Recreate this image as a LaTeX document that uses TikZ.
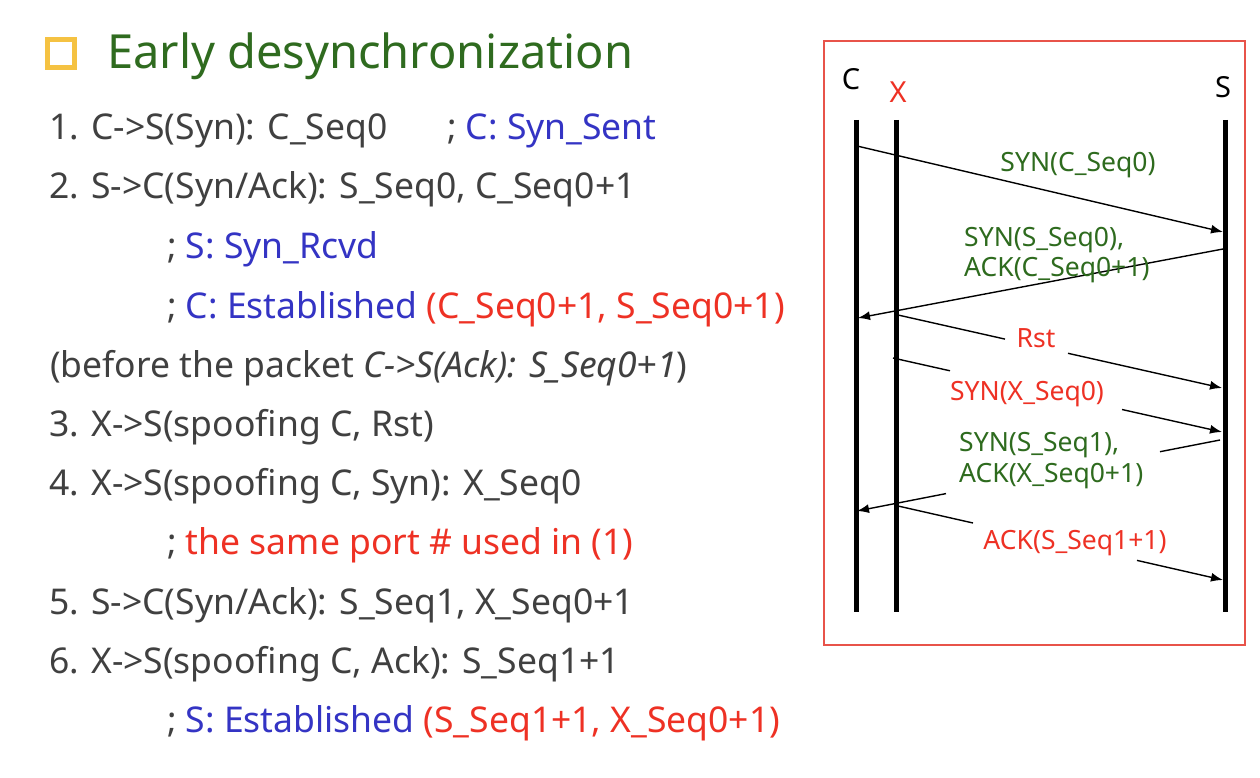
\documentclass[tikz,border=0pt]{standalone}
\usepackage{fontspec}
\setmainfont{Noto Sans}
\usetikzlibrary{arrows.meta}
\definecolor{txtgray}{HTML}{404040}
\definecolor{txtblue}{HTML}{3434C4}
\definecolor{txtred}{HTML}{EE3124}
\definecolor{ttlgreen}{HTML}{2F6B1F}
\definecolor{lblgreen}{HTML}{2E6B1E}
\definecolor{bulletyel}{HTML}{F5C242}
\definecolor{boxred}{HTML}{E8534A}
\tikzset{
  bodytext/.style={anchor=base west, inner sep=0pt, text=txtgray, font=\fontsize{35.5}{42}\selectfont},
  titletext/.style={anchor=base west, inner sep=0pt, text=ttlgreen, font=\fontsize{47}{56}\selectfont},
  lifeline/.style={line width=5pt},
  msg/.style={line width=1.4pt, -{Latex[length=12pt,width=9pt]}},
  seg/.style={line width=1.4pt},
  lbl/.style={inner sep=0pt, font=\fontsize{26.5}{30.5}\selectfont},
  actor/.style={anchor=base, inner sep=0pt, font=\fontsize{29}{32}\selectfont}
}
\begin{document}
\begin{tikzpicture}[x=1pt,y=-1pt]
\useasboundingbox (0,0) rectangle (1260,778);
\fill[white] (0,0) rectangle (1260,778);

% title
\draw[bulletyel, line width=5.5pt] (47.5,39.5) rectangle (74.5,67.5);
\node[titletext] (title) at (107,69) {Early desynchronization};

% body lines
\node[bodytext] (l1) at (49,140) {1. C->S(Syn): C\_Seq0};
\node[bodytext] (l1b) at (447,140) {; \textcolor{txtblue}{C: Syn\_Sent}};
\node[bodytext] (l2) at (49,199) {2. S->C(Syn/Ack): S\_Seq0, C\_Seq0+1};
\node[bodytext] (l3) at (167,258) {; \textcolor{txtblue}{S: Syn\_Rcvd}};
\node[bodytext] (l4) at (167,318) {; \textcolor{txtblue}{C: Established} \textcolor{txtred}{(C\_Seq0+1, S\_Seq0+1)}};
\node[bodytext] (l5) at (50,377) {(before the packet \textit{C->S(Ack): S\_Seq0+1})};
\node[bodytext] (l6) at (49,436) {3. X->S(spoofing C, Rst)};
\node[bodytext] (l7) at (49,495) {4. X->S(spoofing C, Syn): X\_Seq0};
\node[bodytext] (l8) at (167,554) {; \textcolor{txtred}{the same port \# used in (1)}};
\node[bodytext] (l9) at (49,614) {5. S->C(Syn/Ack): S\_Seq1, X\_Seq0+1};
\node[bodytext] (l10) at (49,673) {6. X->S(spoofing C, Ack): S\_Seq1+1};
\node[bodytext] (l11) at (167,732) {; \textcolor{txtblue}{S: Established} \textcolor{txtred}{(S\_Seq1+1, X\_Seq0+1)}};

% diagram frame
\draw[boxred, line width=1.3pt] (824,41) rectangle (1245,645);

% actors
\node[actor] (Clab) at (851,90) {C};
\node[actor, text=txtred] (Xlab) at (898,103) {X};
\node[actor] (Slab) at (1223,98) {S};

% lifelines
\coordinate (Ct) at (856,120); \coordinate (Cb) at (856,612);
\coordinate (Xt) at (896,120); \coordinate (Xb) at (896,612);
\coordinate (St) at (1225,120); \coordinate (Sb) at (1225,612);
\draw[lifeline] (Ct) -- (Cb);
\draw[lifeline] (Xt) -- (Xb);
\draw[lifeline] (St) -- (Sb);

% message end points
\coordinate (c1) at (857,146);  \coordinate (s1) at (1223,232);
\coordinate (s2) at (1223,249); \coordinate (c2) at (858,318);
\coordinate (x3) at (898,315);  \coordinate (g3a) at (1005,339.1); \coordinate (g3b) at (1068,353.3); \coordinate (s3) at (1222,388);
\coordinate (x4) at (893,358);  \coordinate (g4a) at (950,370.8);  \coordinate (g4b) at (1122,409.5); \coordinate (s4) at (1222,432);
\coordinate (s5) at (1220,440); \coordinate (g5a) at (1160,451.7); \coordinate (g5b) at (946,493.6);  \coordinate (c5) at (857,511);
\coordinate (x6) at (898,506);  \coordinate (g6a) at (973,523);    \coordinate (g6b) at (1137,560.4); \coordinate (s6) at (1223,580);

% messages
\draw[msg] (c1) -- (s1);
\draw[msg] (s2) -- (c2);
\draw[seg] (x3) -- (g3a); \draw[msg] (g3b) -- (s3);
\draw[seg] (x4) -- (g4a); \draw[msg] (g4b) -- (s4);
\draw[seg] (s5) -- (g5a); \draw[msg] (g5b) -- (c5);
\draw[seg] (x6) -- (g6a); \draw[msg] (g6b) -- (s6);

% message labels
\node[lbl, anchor=base, text=lblgreen] (m1) at (1078,172) {SYN(C\_Seq0)};
\node[lbl, anchor=west, align=left, text=lblgreen] (m2) at (964,255) {SYN(S\_Seq0),\\ACK(C\_Seq0+1)};
\node[lbl, anchor=base, text=txtred] (m3) at (1036,347) {Rst};
\node[lbl, anchor=base, text=txtred] (m4) at (1027,400) {SYN(X\_Seq0)};
\node[lbl, anchor=west, align=left, text=lblgreen] (m5) at (959,460.5) {SYN(S\_Seq1),\\ACK(X\_Seq0+1)};
\node[lbl, anchor=base, text=txtred] (m6) at (1075,549) {ACK(S\_Seq1+1)};
\end{tikzpicture}
\end{document}
